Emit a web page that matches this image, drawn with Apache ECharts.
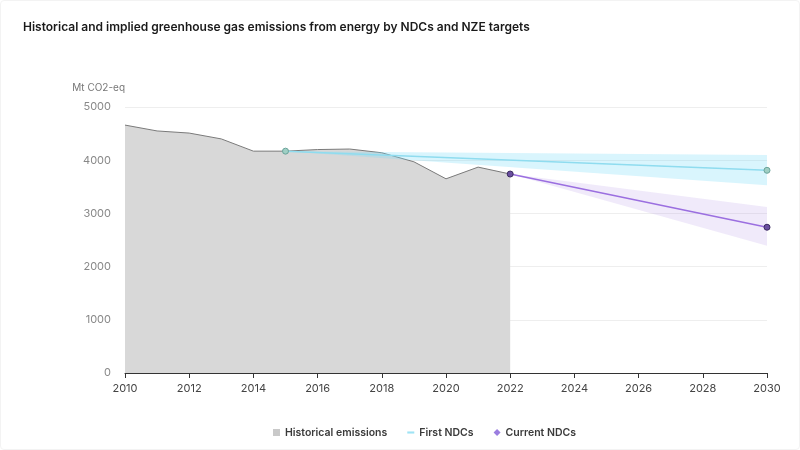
<!DOCTYPE html>
<html>
<head>
<meta charset="utf-8" />
<title>GHG emissions from energy</title>
<script src="https://cdn.jsdelivr.net/npm/echarts@6/dist/echarts.min.js"></script>
<style>
  html, body { margin: 0; padding: 0; background: #fff; }
  #main { width: 800px; height: 450px; box-sizing: border-box; border: 1px solid #f3f3f3; border-radius: 4px; }
</style>
</head>
<body>
<div id="main"></div>
<script type="text/javascript">
    // historical emissions, Mt CO2-eq
    var histYears = [2010, 2011, 2012, 2013, 2014, 2015, 2016, 2017, 2018, 2019, 2020, 2021, 2022];
    var histValues = [4660, 4550, 4510, 4400, 4170, 4170, 4200, 4210, 4140, 3970, 3650, 3870, 3740];

    // First NDCs: line + range
    var firstYears = [2015, 2030];
    var firstValues = [4170, 3810];
    var firstLow = [4170, 3530];
    var firstHigh = [4170, 4100];

    // Current NDCs: line + range
    var currYears = [2022, 2030];
    var currValues = [3740, 2740];
    var currLow = [3740, 2390];
    var currHigh = [3740, 3120];

    function pairs(xs, ys) {
        var res = [];
        for (var i = 0; i < xs.length; i++) res.push([xs[i], ys[i]]);
        return res;
    }
    function triples(xs, lo, hi) {
        var res = [];
        for (var i = 0; i < xs.length; i++) res.push([xs[i], lo[i], hi[i]]);
        return res;
    }

    // range between item i and i+1 drawn as one polygon
    function bandSeries(name, data, color) {
        return {
            name: name,
            type: 'custom',
            data: data,
            encode: { x: 0, y: [1, 2] },
            renderItem: function (params, api) {
                var i = params.dataIndexInside;
                if (i >= params.dataInsideLength - 1) return null;
                var a = data[i], b = data[i + 1];
                return {
                    type: 'polygon',
                    shape: {
                        points: [
                            api.coord([a[0], a[2]]),
                            api.coord([b[0], b[2]]),
                            api.coord([b[0], b[1]]),
                            api.coord([a[0], a[1]])
                        ]
                    },
                    style: { fill: color, stroke: null }
                };
            },
            silent: true,
            z: 2
        };
    }

    var myChart = echarts.init(document.getElementById('main'));
    var font = 'Inter, "Noto Sans", sans-serif';
    var option = {
        animation: false,
        textStyle: { fontFamily: font },
        title: {
            text: 'Historical and implied greenhouse gas emissions from energy by NDCs and NZE targets',
            left: 17,
            top: 15,
            textStyle: { fontSize: 12, fontWeight: 600, color: '#1a1a1a', fontFamily: font }
        },
        legend: {
            bottom: 6,
            left: 267,
            itemWidth: 7,
            itemHeight: 7,
            itemGap: 20,
            textStyle: { fontSize: 10.5, fontWeight: 600, color: '#3a3a3a', fontFamily: font },
            data: [
                { name: 'Historical emissions', icon: 'rect', itemStyle: { color: '#c9c9c9' } },
                { name: 'First NDCs', icon: 'path://M0,3H10V6H0Z', itemStyle: { color: '#9fe3f5' } },
                { name: 'Current NDCs', icon: 'diamond', itemStyle: { color: '#9b7ee0' } }
            ]
        },
        grid: { left: 124, right: 32, top: 106, bottom: 76 },
        xAxis: {
            type: 'value',
            min: 2010,
            max: 2030,
            interval: 2,
            axisLine: { lineStyle: { color: '#333', width: 1 } },
            axisTick: { show: true, length: 5, lineStyle: { color: '#333' } },
            axisLabel: { color: '#444', fontSize: 11, margin: 10, formatter: function (v) { return String(v); } },
            splitLine: { show: false }
        },
        yAxis: {
            type: 'value',
            min: 0,
            max: 5000,
            interval: 1000,
            name: 'Mt CO2-eq',
            nameLocation: 'end',
            nameGap: 14,
            nameTextStyle: { color: '#777', fontSize: 10, align: 'right' },
            axisLine: { show: false },
            axisTick: { show: false },
            axisLabel: { color: '#888', fontSize: 11, margin: 14, formatter: function (v) { return String(v); } },
            splitLine: { lineStyle: { color: '#eeeeee' } }
        },
        series: [
            {
                name: 'Historical emissions',
                type: 'line',
                data: pairs(histYears, histValues),
                symbol: 'none',
                lineStyle: { color: '#7a7a7a', width: 1 },
                areaStyle: { color: '#d8d8d8', opacity: 1 },
                z: 1
            },
            bandSeries('First NDCs', triples(firstYears, firstLow, firstHigh), 'rgba(120, 220, 248, 0.28)'),
            bandSeries('Current NDCs', triples(currYears, currLow, currHigh), 'rgba(180, 150, 232, 0.2)'),
            {
                name: 'First NDCs',
                type: 'line',
                data: pairs(firstYears, firstValues),
                symbol: 'circle',
                symbolSize: 6,
                showAllSymbol: true,
                lineStyle: { color: '#8fdcef', width: 1.5 },
                itemStyle: { color: '#9fcfc4', borderColor: '#6aa39a', borderWidth: 1 },
                z: 3
            },
            {
                name: 'Current NDCs',
                type: 'line',
                data: pairs(currYears, currValues),
                symbol: 'circle',
                symbolSize: 6,
                showAllSymbol: true,
                lineStyle: { color: '#9b6fe0', width: 1.5 },
                itemStyle: { color: '#6a4fa0', borderColor: '#3a2a60', borderWidth: 1 },
                z: 3
            }
        ]
    };
    myChart.setOption(option);
</script>
</body>
</html>
